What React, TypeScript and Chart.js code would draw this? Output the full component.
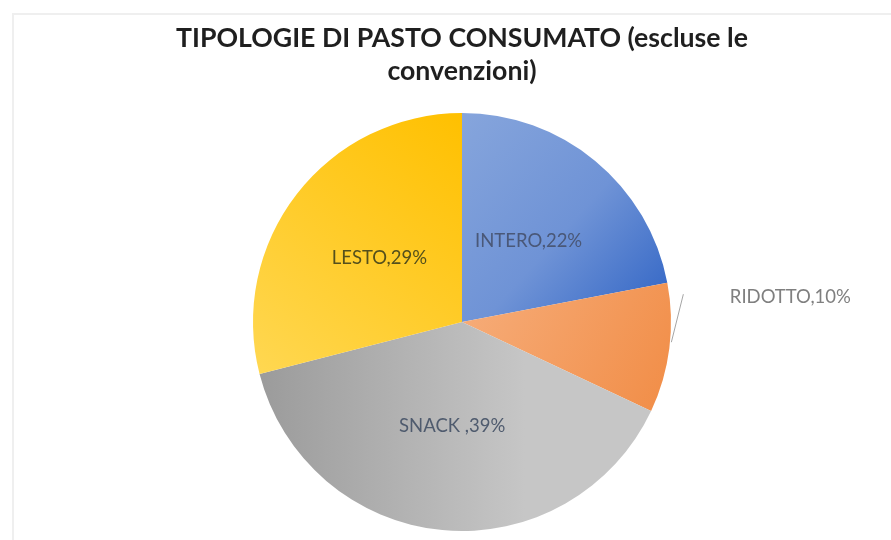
import React, { useEffect, useRef } from "react";
import { Chart, registerables } from "chart.js";

Chart.register(...registerables);

const TITLE_LINES = ["TIPOLOGIE DI PASTO CONSUMATO (escluse le", "convenzioni)"];
const CATEGORIES = ["INTERO", "RIDOTTO", "SNACK ", "LESTO"];
const VALUES = [22, 10, 39, 29];
const LABEL_TEXT_COLORS = ["#4a5878", "#7f7f7f", "#4f5b6e", "#55501c"];

const FONT = "Lato, 'Open Sans', sans-serif";

function sliceGradient(chart: any, index: number) {
  const area = chart.chartArea;
  if (!area) return ["#7f9fdb", "#f4a264", "#bdbdbd", "#ffca28"][index];
  const g = chart.ctx;
  const { left, top, right, bottom } = area;
  const cx = (left + right) / 2;
  const cy = (top + bottom) / 2;
  const r = Math.min(right - left, bottom - top) / 2;
  let grad: CanvasGradient;
  if (index === 0) {
    grad = g.createLinearGradient(cx, cy - r, cx + r, cy - 0.1 * r);
    grad.addColorStop(0, "#86a5dc");
    grad.addColorStop(0.55, "#6f93d6");
    grad.addColorStop(1, "#3467c6");
  } else if (index === 1) {
    grad = g.createLinearGradient(cx, cy, cx + r, cy + 0.5 * r);
    grad.addColorStop(0, "#f6ab77");
    grad.addColorStop(1, "#f18c45");
  } else if (index === 2) {
    grad = g.createLinearGradient(cx - r, cy, cx + 0.3 * r, cy);
    grad.addColorStop(0, "#9a9a9a");
    grad.addColorStop(1, "#c6c6c6");
  } else {
    grad = g.createLinearGradient(cx, cy - r, cx - r, cy + 0.2 * r);
    grad.addColorStop(0, "#ffc000");
    grad.addColorStop(1, "#ffd750");
  }
  return grad;
}

const framePlugin = {
  id: "frame",
  beforeDraw(chart: any) {
    const ctx = chart.ctx;
    ctx.save();
    ctx.fillStyle = "#ffffff";
    ctx.fillRect(0, 0, chart.width, chart.height);
    ctx.strokeStyle = "#efefef";
    ctx.lineWidth = 2;
    ctx.beginPath();
    ctx.moveTo(13, chart.height);
    ctx.lineTo(13, 14);
    ctx.lineTo(chart.width, 14);
    ctx.stroke();
    ctx.restore();
  },
};

const titlePlugin = {
  id: "customTitle",
  afterDraw(chart: any) {
    const ctx = chart.ctx;
    const area = chart.chartArea;
    const cx = (area.left + area.right) / 2;
    ctx.save();
    ctx.fillStyle = "#1f1f1f";
    ctx.textAlign = "center";
    ctx.textBaseline = "alphabetic";
    ctx.font = `bold 26.7px ${FONT}`;
    TITLE_LINES.forEach((line, i) => {
      ctx.fillText(line, cx, 47 + i * 33);
    });
    ctx.restore();
  },
};

const labelPlugin = {
  id: "sliceLabels",
  afterDatasetsDraw(chart: any) {
    const ctx = chart.ctx;
    const meta = chart.getDatasetMeta(0);
    const data = chart.data.datasets[0].data as number[];
    const total = data.reduce((a, b) => a + b, 0);
    ctx.save();
    ctx.font = `18.5px ${FONT}`;
    ctx.textAlign = "center";
    ctx.textBaseline = "middle";
    meta.data.forEach((arc: any, i: number) => {
      const { x, y, startAngle, endAngle, outerRadius } = arc.getProps(
        ["x", "y", "startAngle", "endAngle", "outerRadius"],
        true
      );
      const mid = (startAngle + endAngle) / 2;
      const pct = Math.round((data[i] / total) * 100);
      const text = `${chart.data.labels[i]},${pct}%`;
      ctx.fillStyle = LABEL_TEXT_COLORS[i];
      if (i === 1) {
        const ex = x + Math.cos(mid) * outerRadius;
        const ey = y + Math.sin(mid) * outerRadius;
        ctx.strokeStyle = "#a6a6a6";
        ctx.lineWidth = 1;
        ctx.beginPath();
        ctx.moveTo(ex + 2, ey - 6);
        ctx.lineTo(ex + 14, ey - 54);
        ctx.stroke();
        ctx.fillText(text, ex + 121, ey - 51);
      } else {
        const lr = outerRadius * 0.5;
        ctx.fillText(text, x + Math.cos(mid) * lr, y + Math.sin(mid) * lr);
      }
    });
    ctx.restore();
  },
};

export default function App() {
  const ref = useRef<HTMLCanvasElement | null>(null);
  useEffect(() => {
    if (!ref.current) return;
    const chart = new Chart(ref.current, {
      type: "pie",
      data: {
        labels: CATEGORIES,
        datasets: [
          {
            data: VALUES,
            backgroundColor: (c: any) => sliceGradient(c.chart, c.dataIndex),
            borderWidth: 0,
          },
        ],
      },
      options: {
        responsive: false,
        maintainAspectRatio: false,
        animation: false,
        layout: { padding: { left: 253, right: 220, top: 113, bottom: 9 } },
        plugins: {
          legend: { display: false },
          tooltip: { enabled: false },
          title: { display: false },
        },
      },
      plugins: [framePlugin, titlePlugin, labelPlugin],
    });
    return () => chart.destroy();
  }, []);
  return (
    <div style={{ position: "absolute", left: 0, top: 0, width: 891, height: 540 }}>
      <canvas ref={ref} width={891} height={540} />
    </div>
  );
}
